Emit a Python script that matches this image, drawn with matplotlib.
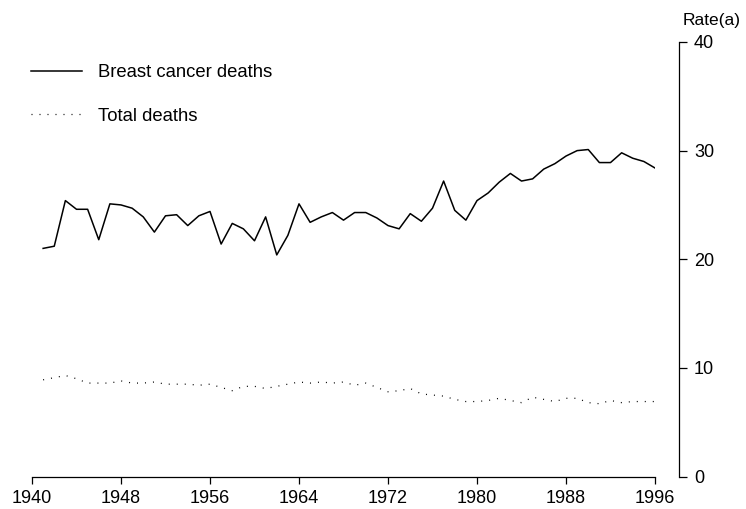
import matplotlib
matplotlib.use("Agg")
import matplotlib.pyplot as plt
import numpy as np

years = list(range(1941, 1997))
breast_cancer = [21.0, 21.2, 25.4, 24.6, 24.6, 21.8, 25.1, 25.0, 24.7, 23.9,
                 22.5, 24.0, 24.1, 23.1, 24.0, 24.4, 21.4, 23.3, 22.8, 21.7,
                 23.9, 20.4, 22.2, 25.1, 23.4, 23.9, 24.3, 23.6, 24.3, 24.3,
                 23.8, 23.1, 22.8, 24.2, 23.5, 24.7, 27.2, 24.5, 23.6, 25.4,
                 26.1, 27.1, 27.9, 27.2, 27.4, 28.3, 28.8, 29.5, 30.0, 30.1,
                 28.9, 28.9, 29.8, 29.3, 29.0, 28.4]
total_deaths = [8.9, 9.1, 9.3, 9.0, 8.6, 8.6, 8.6, 8.8, 8.6, 8.6,
                8.7, 8.5, 8.5, 8.5, 8.4, 8.5, 8.2, 7.9, 8.3, 8.3,
                8.1, 8.3, 8.5, 8.7, 8.6, 8.7, 8.6, 8.7, 8.4, 8.6,
                8.2, 7.8, 7.9, 8.1, 7.6, 7.5, 7.4, 7.1, 6.9, 6.9,
                7.0, 7.2, 7.0, 6.8, 7.3, 7.1, 6.9, 7.2, 7.2, 6.8,
                6.7, 7.0, 6.8, 6.9, 6.9, 6.9]
xticks = [1940, 1948, 1956, 1964, 1972, 1980, 1988, 1996]
yticks = [0, 10, 20, 30, 40]

plt.rcParams['font.family'] = ['Liberation Sans', 'DejaVu Sans']

fig = plt.figure(figsize=(7.46, 5.09), dpi=100)
ax = fig.add_axes([32/746, 32.5/509, 623/746, 434.5/509])

ax.plot(years, breast_cancer, color='black', lw=1.1, label='Breast cancer deaths')
ax.plot(years, total_deaths, color='black', lw=0.9, linestyle=(0, (0.8, 5.6)),
        label='Total deaths')

ax.set_xlim(1940, 1996)
ax.set_ylim(0, 40)
ax.set_xticks(xticks)
ax.set_xticklabels([str(t) for t in xticks])
ax.set_yticks(yticks)
ax.set_yticklabels([str(t) for t in yticks])

ax.spines['top'].set_visible(False)
ax.spines['left'].set_visible(False)
ax.spines['right'].set_position(('outward', 17))
for s in ['right', 'bottom']:
    ax.spines[s].set_linewidth(0.9)

ax.yaxis.tick_right()
ax.tick_params(axis='y', direction='out', length=6, width=0.9, pad=5, labelsize=13)
ax.tick_params(axis='x', direction='out', length=5, width=0.9, pad=5, labelsize=13)

fig.text(712/746, 1 - 20/509, 'Rate(a)', ha='center', va='center', fontsize=12.5)

leg = ax.legend(loc='upper left', bbox_to_anchor=(31/746, 1 - 64/509), bbox_transform=fig.transFigure,
                frameon=False, fontsize=13.3, handlelength=2.75, handletextpad=0.9,
                labelspacing=1.45, borderaxespad=0, borderpad=0.0)

fig.savefig('out.png', dpi=100)
